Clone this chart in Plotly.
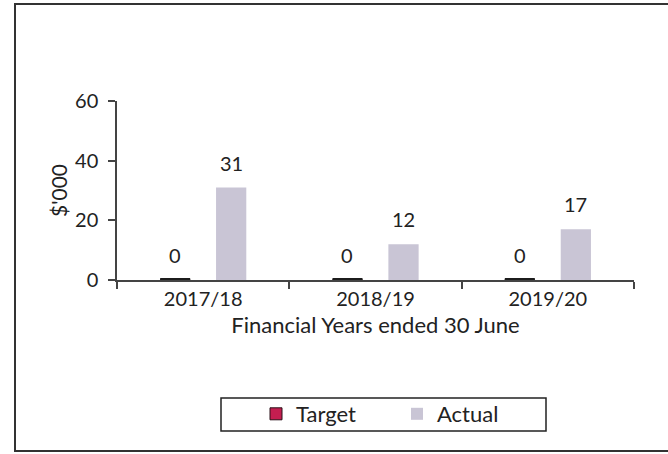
import plotly.graph_objects as go

categories = ["2017/18", "2018/19", "2019/20"]
target = [0, 0, 0]
actual = [31, 12, 17]
y_ticks = [0, 20, 40, 60]

FONT = "Lato"
L, R, T, B = 117, 34, 101, 174
W, H = 668, 454
pw, ph = W - L - R, H - T - B
BARGAP, BARGROUPGAP = 0.35, 0.46

def px(x):
    return (x - L) / pw

def py(y):
    return (H - B - y) / ph

fig = go.Figure()
fig.add_trace(go.Bar(
    name="Target", x=categories, y=target,
    marker=dict(color="#C41E50", line=dict(color="#2a1018", width=1)),
    error_y=dict(type="data", array=[0] * len(target), width=15, thickness=4, color="#1c1c1c"),
    cliponaxis=False,
))
fig.add_trace(go.Bar(
    name="Actual", x=categories, y=actual,
    marker=dict(color="#C9C5D5", line=dict(width=0)),
    cliponaxis=False,
))

# value labels placed above each bar, offset to the bar's slot within its group
slot = (1 - BARGAP) * (pw / len(categories)) / 2
annotations = []
for k, series in enumerate([target, actual]):
    shift = (k - 0.5) * slot
    for cat, val in zip(categories, series):
        annotations.append(dict(
            x=cat, y=val, xref="x", yref="y", text=str(val), showarrow=False,
            xshift=shift, yshift=25, yanchor="middle",
            font=dict(family=FONT, size=20, color="#222"),
        ))

fig.update_layout(
    width=W, height=H,
    margin=dict(l=L, r=R, t=T, b=B),
    paper_bgcolor="white", plot_bgcolor="white",
    font=dict(family=FONT, size=20, color="#222"),
    barmode="group", bargap=BARGAP, bargroupgap=BARGROUPGAP,
    showlegend=True,
    legend=dict(orientation="h", x=px(256), xanchor="left", y=py(414), yanchor="middle",
                entrywidth=96, font=dict(size=22, color="#222"), bgcolor="rgba(0,0,0,0)",
                traceorder="normal"),
    annotations=annotations,
    shapes=[
        dict(type="rect", xref="paper", yref="paper", x0=px(15), x1=px(672), y0=py(451), y1=py(4),
             line=dict(color="#333", width=2), fillcolor="rgba(0,0,0,0)", layer="below"),
        dict(type="rect", xref="paper", yref="paper", x0=px(221), x1=px(546), y0=py(431), y1=py(398),
             line=dict(color="#222", width=1.5), fillcolor="rgba(0,0,0,0)", layer="below"),
    ],
)
fig.update_xaxes(
    showline=True, linecolor="#444", linewidth=1.5,
    ticks="outside", ticklen=7, tickcolor="#444", tickwidth=1.5, tickson="boundaries",
    showgrid=False, zeroline=False,
    tickfont=dict(size=20),
    title=dict(text="Financial Years ended 30 June", font=dict(size=22), standoff=9),
)
fig.update_yaxes(
    range=[0, 60], tickvals=y_ticks, showline=True, linecolor="#444", linewidth=1.5,
    ticks="outside", ticklen=7, tickcolor="#444", tickwidth=1.5,
    showgrid=False, zeroline=False, ticklabelstandoff=6,
    tickfont=dict(size=20),
    title=dict(text="$'000", font=dict(size=21), standoff=2),
)

fig.write_html("out.html", post_script="document.body.style.margin='0';",
               config={"displayModeBar": False})
